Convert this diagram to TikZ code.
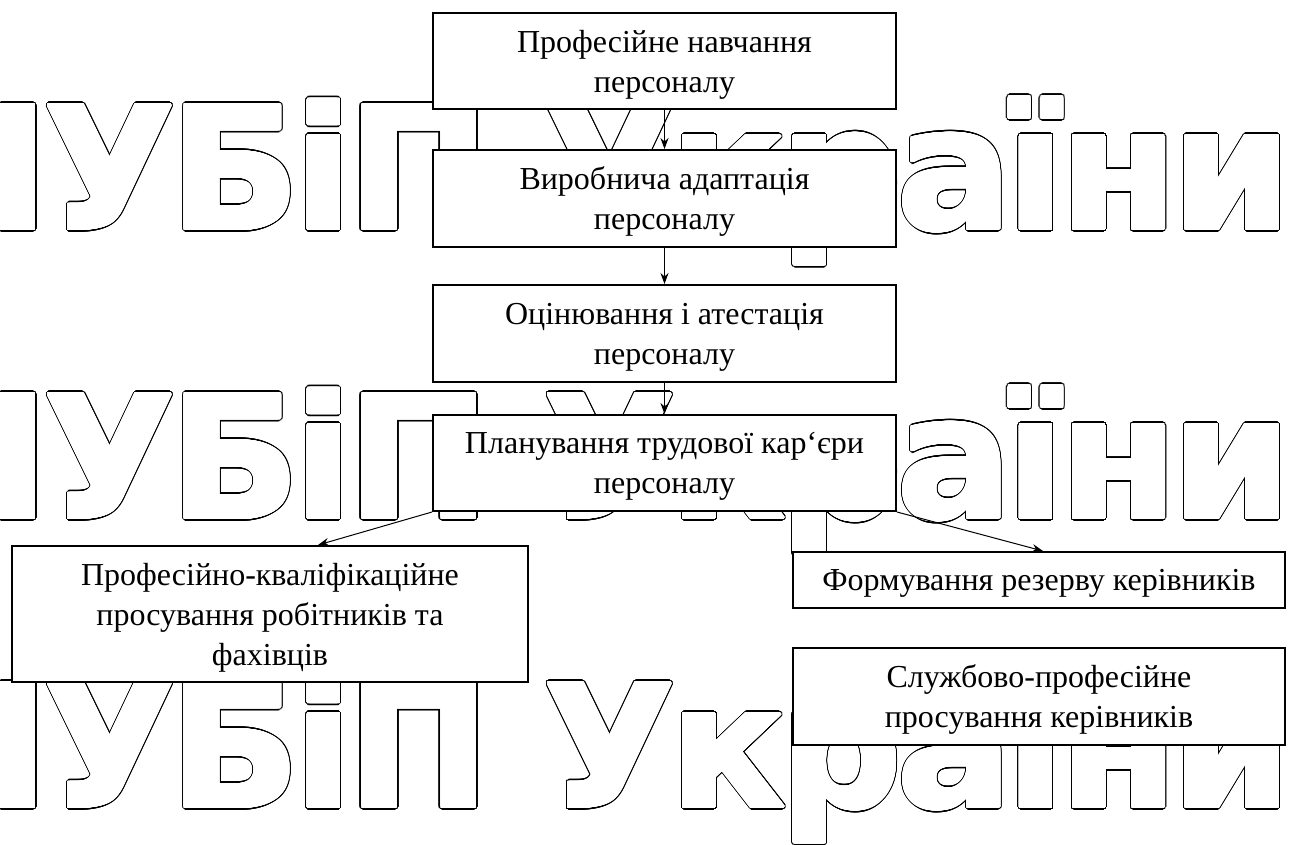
\documentclass[tikz,border=0pt]{standalone}
\usepackage{fontspec}
\setmainfont{Liberation Serif}
\newfontfamily\wmfont[LetterSpace=-3.0]{DejaVu Sans}
\usepackage{contour}
\contournumber{32}
\usetikzlibrary{arrows.meta,calc}
\begin{document}
\begin{tikzpicture}[x=1pt,y=-1pt,
  box/.style={draw=black, fill=white, line width=2pt, align=center, inner sep=0pt,
    text depth=-1pt, font=\fontsize{32}{40}\selectfont},
  conn/.style={line width=1pt, -{Stealth[length=11pt,width=8pt]}},
  wm/.style={anchor=base west, inner sep=0pt, outer sep=0pt,
    font=\wmfont\bfseries\fontsize{170}{170}\selectfont}]
\useasboundingbox (0,0) rectangle (1296,844);
\fill[white] (0,0) rectangle (1296,844);
\begin{scope}
  \clip (0,0) rectangle (1296,844);
  \foreach \yy/\nm in {229/1,518/2,807/3} {
    \node[wm] (wmo\nm) at (-93,\yy) {\contourlength{3.1pt}\color{white}\contour{black}{НУБіП України}};
    \node[wm] (wmi\nm) at (-93,\yy) {\contourlength{1.9pt}\color{white}\contour{white}{НУБіП України}};
  }
\end{scope}

\node[box, minimum width=463pt, minimum height=96pt] (b1) at (664.5,61) {Професійне навчання\\персоналу};
\node[box, minimum width=463pt, minimum height=97pt] (b2) at (664.5,198.5) {Виробнича адаптація\\персоналу};
\node[box, minimum width=463pt, minimum height=97pt] (b3) at (664.5,333.5) {Оцінювання і атестація\\персоналу};
\node[box, minimum width=463pt, minimum height=96pt] (b4) at (664.5,463) {Планування трудової кар‘єри\\персоналу};
\node[box, minimum width=516pt, minimum height=136pt] (b5) at (270,614) {Професійно-кваліфікаційне\\просування робітників та\\фахівців};
\node[box, minimum width=492pt, minimum height=56pt] (b6) at (1039,580) {Формування резерву керівників};
\node[box, minimum width=492pt, minimum height=97pt] (b7) at (1039,696.5) {Службово-професійне\\просування керівників};

\draw[conn] (b1.south) -- (b2.north);
\draw[conn] (b2.south) -- (b3.north);
\draw[conn] (b3.south) -- (b4.north);
\draw[conn] (b4.south west) -- ([xshift=48pt]b5.north);
\draw[conn] (b4.south east) -- ([xshift=4pt]b6.north);
\end{tikzpicture}
\end{document}
